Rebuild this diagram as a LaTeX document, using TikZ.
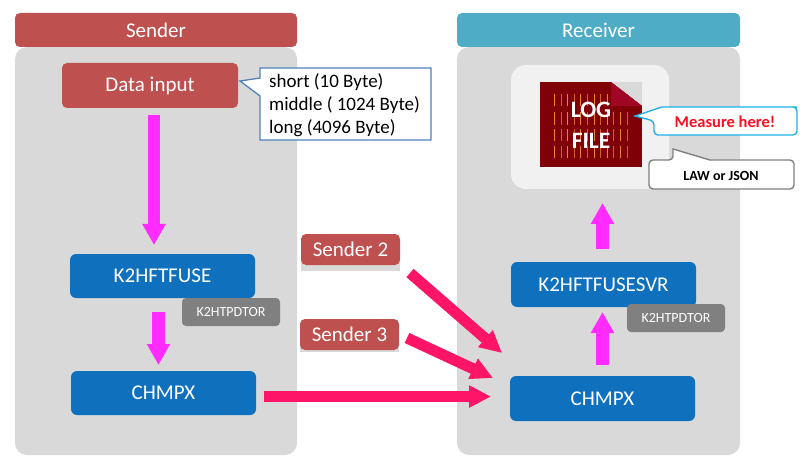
\documentclass[tikz,border=0pt]{standalone}
\usepackage{fontspec}
\setmainfont{Carlito}
\usetikzlibrary{arrows.meta}
\definecolor{brick}{HTML}{BE5150}
\definecolor{panelgray}{HTML}{D9D9D9}
\definecolor{bluebox}{HTML}{0F70BE}
\definecolor{tealband}{HTML}{4FACC7}
\definecolor{magarrow}{HTML}{FF2BFF}
\definecolor{pinkarrow}{HTML}{FF1568}
\definecolor{tagray}{HTML}{808080}
\definecolor{softpanel}{HTML}{F1F1F1}
\definecolor{filered}{HTML}{7F0006}
\definecolor{foldred}{HTML}{A00526}
\definecolor{hatchA}{HTML}{E8842A}
\definecolor{calloutblue}{HTML}{4F81BD}
\definecolor{calloutcyan}{HTML}{1FB0E8}
\definecolor{measurered}{HTML}{FF1020}
\tikzset{
  box/.style={rectangle,draw=none,inner sep=0pt,text=white,align=center,font=\fontsize{21}{25}\selectfont},
  band/.style={box,rounded corners=5pt},
  panel/.style={box,fill=panelgray,rounded corners=12pt},
  bluenode/.style={box,fill=bluebox,rounded corners=6pt},
  rednode/.style={box,fill=brick,rounded corners=5pt},
  tag/.style={box,fill=tagray,rounded corners=4pt,text=white,font=\fontsize{14}{16}\selectfont},
  magflow/.style={draw=magarrow,line width=12.5pt,-{Triangle[length=21pt,width=22pt]},magarrow},
  pinkflow/.style={draw=pinkarrow,line width=11pt,-{Triangle[length=22pt,width=21pt]},pinkarrow},
  hatchline/.style={line width=0.9pt},
}
\begin{document}
\begin{tikzpicture}[x=1pt,y=-1pt]
\useasboundingbox (0,0) rectangle (810,470);
% panels
\node[panel,minimum width=282pt,minimum height=408pt] (sp) at (156,251) {};
\node[panel,minimum width=283pt,minimum height=408pt] (rp) at (598.5,251) {};
\node[band,fill=brick,minimum width=282pt,minimum height=34pt] (sender) at (156,30) {Sender};
\node[band,fill=tealband,minimum width=283pt,minimum height=34pt] (receiver) at (598.5,30) {Receiver};
% sender column
\node[rednode,minimum width=176pt,minimum height=45pt] (data) at (150,85.5) {Data input};
\node[bluenode,minimum width=185pt,minimum height=44pt] (fuse) at (162.5,276) {K2HFTFUSE};
\node[tag,minimum width=98pt,minimum height=28pt] (tagA) at (231,312) {K2HTPDTOR};
\node[bluenode,minimum width=185pt,minimum height=44pt] (chmpxA) at (163.5,393) {CHMPX};
% sender 2 and 3
\fill[panelgray] (301,250) rectangle (400,271);
\fill[panelgray] (300,340) rectangle (399,352);
\node[rednode,minimum width=99pt,minimum height=31pt] (s2) at (350.5,249.5) {Sender 2};
\node[rednode,minimum width=99pt,minimum height=31pt] (s3) at (349.5,334.5) {Sender 3};
% receiver column
\node[rectangle,fill=softpanel,rounded corners=15pt,minimum width=158pt,minimum height=124pt,inner sep=0pt] (logp) at (590,127) {};
\node[bluenode,minimum width=185pt,minimum height=45pt] (svr) at (603.5,284.5) {K2HFTFUSESVR};
\node[tag,minimum width=98pt,minimum height=28pt] (tagB) at (676,318) {K2HTPDTOR};
\node[bluenode,minimum width=185pt,minimum height=45pt] (chmpxB) at (602.5,398.5) {CHMPX};
% log file
\fill[filered] (540,82) rectangle (642,167);
\fill[panelgray] (611,82) -- (642,82) -- (642,106) -- cycle;
\fill[foldred] (611,82) -- (642,106) -- (611,106) -- cycle;
\foreach \yy/\ye in {94/106,112/125,129/141,146/158}{
  \foreach \i in {0,...,11}{
    \pgfmathsetmacro{\xx}{554.5+6.6*\i}
    \ifodd\i\relax
      \draw[hatchline,hatchA!75!filered] (\xx,\yy) -- (\xx,\ye);
    \else
      \draw[hatchline,hatchA] (\xx,\yy) -- (\xx,\ye);
    \fi
  }
}
\fill[foldred] (611,82) -- (642,106) -- (611,106) -- cycle;
\node[box,font=\fontsize{23.5}{31}\bfseries\selectfont] (logtxt) at (591,125) {LOG\\FILE};
% callouts
\draw[calloutblue,fill=white,line width=1.3pt] (260,68) -- (431,68) -- (431,140) -- (260,140) -- (260,96) -- (240,81) -- (260,78) -- cycle;
\node[box,text=black,anchor=west,align=left,font=\fontsize{19}{23}\selectfont] (sizes) at (269,105.5) {short (10 Byte)\\middle ( 1024 Byte)\\long (4096 Byte)};
\draw[calloutcyan,fill=white,line width=1.4pt,rounded corners=4pt] (662,107) -- (793,107) -- (797,107) -- (797,135) -- (654,135) -- (654,121) [sharp corners] -- (635,116) -- (662,107) -- cycle;
\node[box,text=measurered,font=\fontsize{16.5}{19}\bfseries\selectfont] (measure) at (725,122) {Measure here!};
\draw[tagray,fill=white,line width=1.4pt,rounded corners=4pt] (710,160) -- (794,160) -- (794,189) -- (649,189) -- (649,160) -- (673,160) [sharp corners] -- (673,149) -- (710,160) -- cycle;
\node[box,text=black,font=\fontsize{14}{16}\bfseries\selectfont] (law) at (721,175.5) {LAW or JSON};
% connector ends
\coordinate (d0) at (154,115);
\coordinate (d1) at (154,245);
\coordinate (f0) at (158.5,312);
\coordinate (f1) at (158.5,365);
\coordinate (m0) at (264,396.5);
\coordinate (m1) at (491,396.5);
\coordinate (s20) at (410,273);
\coordinate (s21) at (502,353);
\coordinate (s30) at (407,338);
\coordinate (s31) at (493,378);
\coordinate (b0) at (602.5,365);
\coordinate (b1) at (602.5,312);
\coordinate (c0) at (602.5,249);
\coordinate (c1) at (602.5,203);
\draw[magflow] (d0) -- (d1);
\draw[magflow] (f0) -- (f1);
\draw[magflow] (b0) -- (b1);
\draw[magflow] (c0) -- (c1);
\draw[pinkflow] (m0) -- (m1);
\draw[pinkflow] (s20) -- (s21);
\draw[pinkflow] (s30) -- (s31);
\end{tikzpicture}
\end{document}
